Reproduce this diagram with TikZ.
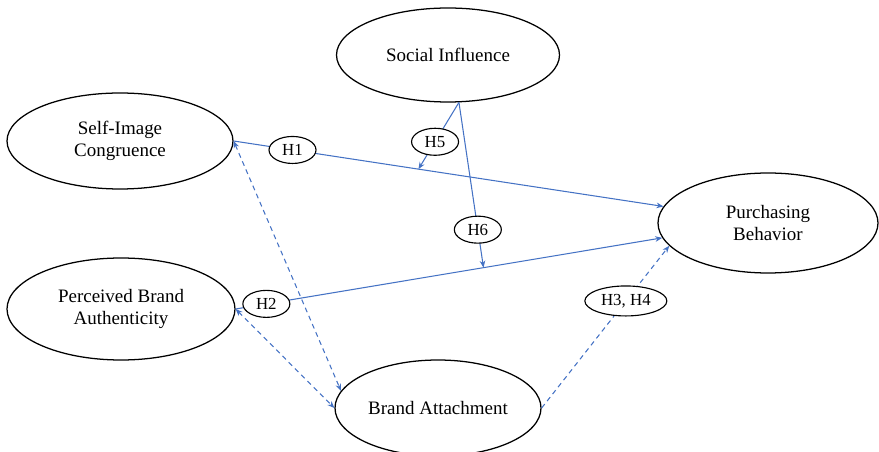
\documentclass[tikz,border=0pt]{standalone}
\usepackage{fontspec}
\setmainfont{Liberation Serif}
\usetikzlibrary{shapes.geometric,arrows.meta}
\definecolor{pathblue}{RGB}{68,114,196}
\tikzset{
	>={Stealth[length=5pt,width=4pt]},
	construct/.style={draw, ellipse, line width=0.9pt, inner sep=0pt, align=center, font=\fontsize{13.5}{15.5}\selectfont},
	hyp/.style={draw=black, solid, ellipse, line width=0.8pt, fill=white, inner sep=0pt, minimum width=1.175cm, minimum height=0.675cm, font=\fontsize{12}{14}\selectfont},
	direct/.style={draw=pathblue, line width=0.75pt, ->},
	mediated/.style={direct, dash pattern=on 3.5pt off 2.8pt},
}

\begin{document}
\begin{tikzpicture}
		%%%%% START %%%%%
		\useasboundingbox (0,0) rectangle (21.975,-11.3);
		
		\node[construct, minimum width=5.65cm, minimum height=2.4cm] (sic) at (3.0,-3.525) {Self-Image\\Congruence};
		\node[construct, minimum width=5.7cm, minimum height=2.55cm] (pba) at (3.025,-7.725) {Perceived Brand\\Authenticity};
		\node[construct, minimum width=5.575cm, minimum height=2.35cm] (si) at (11.2,-1.375) {Social Influence};
		\node[construct, minimum width=5.5cm, minimum height=2.5cm] (pb) at (19.2,-5.575) {Purchasing\\Behavior};
		\node[construct, minimum width=5.15cm, minimum height=2.4cm] (ba) at (10.95,-10.2) {Brand Attachment};
		
		\draw[direct] (sic.east) -- node[hyp, pos=0.137] (h1) {H1} coordinate[pos=0.43] (m1) (pb.171);
		\draw[direct] (pba.east) -- node[hyp, pos=0.072] (h2) {H2} coordinate[pos=0.581] (m2) (pb.188);
		
		\coordinate (sip) at (si.283);
		\draw[direct] (sip) -- node[hyp, pos=0.59] (h5) {H5} (m1);
		\draw[direct] (sip) -- node[hyp, pos=0.77] (h6) {H6} (m2);
		
		\draw[mediated, <->] (sic.east) -- (ba.170);
		\draw[mediated, <->] (pba.east) -- (ba.west);
		\draw[mediated] (ba.east) -- node[hyp, minimum width=2.05cm, minimum height=0.75cm, pos=0.66] (h34) {H3, H4} (pb.193);
		%%%%% END %%%%%
\end{tikzpicture}
\end{document}
